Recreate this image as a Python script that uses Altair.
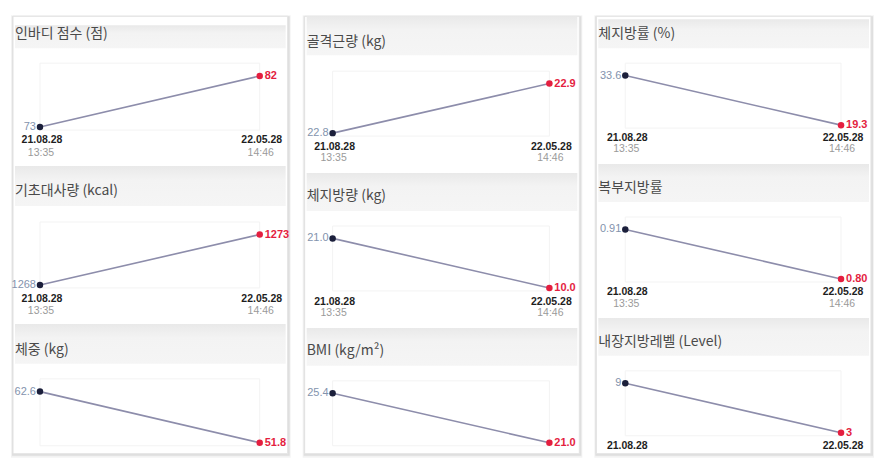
import altair as alt
import pandas as pd

# ---------------- data ----------------
dates = ["21.08.28", "22.05.28"]
times = ["13:35", "14:46"]

inbody_score = [73, 82]
bmr = [1268, 1273]
weight = [62.6, 51.8]
skeletal_muscle = [22.8, 22.9]
body_fat_mass = [21.0, 10.0]
bmi = [25.4, 21.0]
body_fat_pct = [33.6, 19.3]
waist_hip_ratio = [0.91, 0.80]
visceral_level = [9, 3]

titles = [
    ["인바디 점수 (점)", "기초대사량 (kcal)", "체중 (kg)"],
    ["골격근량 (kg)", "체지방량 (kg)", "BMI (kg/m²)"],
    ["체지방률 (%)", "복부지방률", "내장지방레벨 (Level)"],
]
series = [
    [inbody_score, bmr, weight],
    [skeletal_muscle, body_fat_mass, bmi],
    [body_fat_pct, waist_hip_ratio, visceral_level],
]
formats = [
    ["d", "d", ".1f"],
    [".1f", ".1f", ".1f"],
    [".1f", ".2f", "d"],
]

# ---------------- layout (pixels, local to each card) ----------------
CARD_W, CARD_H = 275, 438
x_ranges = [[27, 247], [28, 245], [29, 245]]
layout = [
    [dict(ht=9, hb=32, ty=18, ft=47, fb=114, dy=124, tmy=137),
     dict(ht=150, hb=190, ty=175, ft=206, fb=272, dy=283, tmy=295),
     dict(ht=308, hb=348, ty=334, ft=363, fb=430, dy=None, tmy=None)],
    [dict(ht=0, hb=39, ty=26, ft=55, fb=120, dy=131, tmy=142),
     dict(ht=157, hb=195, ty=180, ft=210, fb=275, dy=286, tmy=297),
     dict(ht=312, hb=350, ty=335, ft=365, fb=430, dy=None, tmy=None)],
    [dict(ht=3, hb=32, ty=18, ft=47, fb=112, dy=122, tmy=133),
     dict(ht=148, hb=186, ty=172, ft=201, fb=266, dy=276, tmy=288),
     dict(ht=302, hb=340, ty=326, ft=355, fb=420, dy=430, tmy=None)],
]

NAVY = "#1b1f3b"
RED = "#e41e3f"
LINE = "#8d8dab"
FIRST_LABEL = "#8393ad"
KFONT = "Noto Sans CJK KR"
NFONT = "Liberation Sans"

header_grad = alt.LinearGradient(
    gradient="linear",
    stops=[alt.GradientStop(color="#e9e9e9", offset=0),
           alt.GradientStop(color="#f3f3f3", offset=0.35),
           alt.GradientStop(color="#f5f5f5", offset=1)],
    x1=0, x2=0, y1=0, y2=1,
)

one = pd.DataFrame({"k": [0]})


def section(values, fmt, title, L, xr):
    df = pd.DataFrame({
        "idx": list(range(len(dates))),
        "date": dates,
        "time": times,
        "v": values,
    })
    d = max(values) - min(values)
    lo = min(values) - 0.06 * d
    hi = max(values) + 0.25 * d
    x = alt.X("idx:Q", scale=alt.Scale(domain=[0, len(dates) - 1], range=xr), axis=None)
    y = alt.Y("v:Q", scale=alt.Scale(domain=[lo, hi], range=[L["fb"], L["ft"]],
                                     zero=False, nice=False), axis=None)
    last = len(dates) - 1

    header = alt.Chart(one).mark_rect(color=header_grad).encode(
        x=alt.value(2), x2=alt.value(CARD_W - 2),
        y=alt.value(L["ht"]), y2=alt.value(L["hb"]))
    ttl = alt.Chart(pd.DataFrame({"t": [title]})).mark_text(
        align="left", baseline="middle", font=KFONT, fontSize=14, color="#4a4a4a"
    ).encode(x=alt.value(2), y=alt.value(L["ty"]), text="t:N")
    frame = alt.Chart(one).mark_rect(fillOpacity=0, stroke="#f3f3f3", strokeWidth=1).encode(
        x=alt.value(xr[0]), x2=alt.value(xr[1]),
        y=alt.value(L["ft"]), y2=alt.value(L["fb"]))

    base = alt.Chart(df).encode(x=x, y=y)
    line = base.mark_line(color=LINE, strokeWidth=1.6)
    pts = base.mark_circle(size=42, opacity=1).encode(
        color=alt.condition(f"datum.idx == {last}", alt.value(RED), alt.value(NAVY)))
    lab_first = base.transform_filter("datum.idx == 0").mark_text(
        align="right", baseline="middle", dx=-4, font=NFONT, fontSize=11, color=FIRST_LABEL
    ).encode(text=alt.Text("v:Q", format=fmt))
    lab_last = base.transform_filter(f"datum.idx == {last}").mark_text(
        align="left", baseline="middle", dx=5, font=NFONT, fontSize=11, fontWeight="bold", color=RED
    ).encode(text=alt.Text("v:Q", format=fmt))

    data_layer = alt.layer(line, pts, lab_first, lab_last)
    parts = [header, ttl, frame, data_layer]
    if L["dy"] is not None:
        parts.append(alt.Chart(df).mark_text(
            align="center", baseline="middle", dx=2, font=NFONT, fontSize=10.5,
            fontWeight="bold", color="#1e1e1e"
        ).encode(x=x, y=alt.value(L["dy"]), text="date:N"))
    if L["tmy"] is not None:
        parts.append(alt.Chart(df).mark_text(
            align="center", baseline="middle", dx=1, font=NFONT, fontSize=10.5, color="#9a9a9a"
        ).encode(x=x, y=alt.value(L["tmy"]), text="time:N"))
    return parts


def column(c):
    shadow1 = alt.Chart(one).mark_rect(color="#000000", opacity=0.05).encode(
        x=alt.value(-2), x2=alt.value(CARD_W + 3), y=alt.value(-1), y2=alt.value(CARD_H + 4))
    shadow2 = alt.Chart(one).mark_rect(color="#000000", opacity=0.08).encode(
        x=alt.value(-1), x2=alt.value(CARD_W + 2), y=alt.value(0), y2=alt.value(CARD_H + 2))
    card = alt.Chart(one).mark_rect(color="white", stroke="#e2e2e2", strokeWidth=1).encode(
        x=alt.value(0), x2=alt.value(CARD_W), y=alt.value(0), y2=alt.value(CARD_H))
    layers = [shadow1, shadow2, card]
    for s in range(3):
        layers += section(series[c][s], formats[c][s], titles[c][s], layout[c][s], x_ranges[c])
    return alt.layer(*layers).resolve_scale(y="independent").properties(
        width=CARD_W, height=CARD_H)


chart = alt.hconcat(column(0), column(1), column(2), spacing=17, bounds="flush").properties(
    padding={"left": 3, "top": 7, "right": 0, "bottom": 0},
    background="white",
).configure_view(stroke=None)

chart.save("out.html", embed_options={"renderer": "svg", "actions": False})
